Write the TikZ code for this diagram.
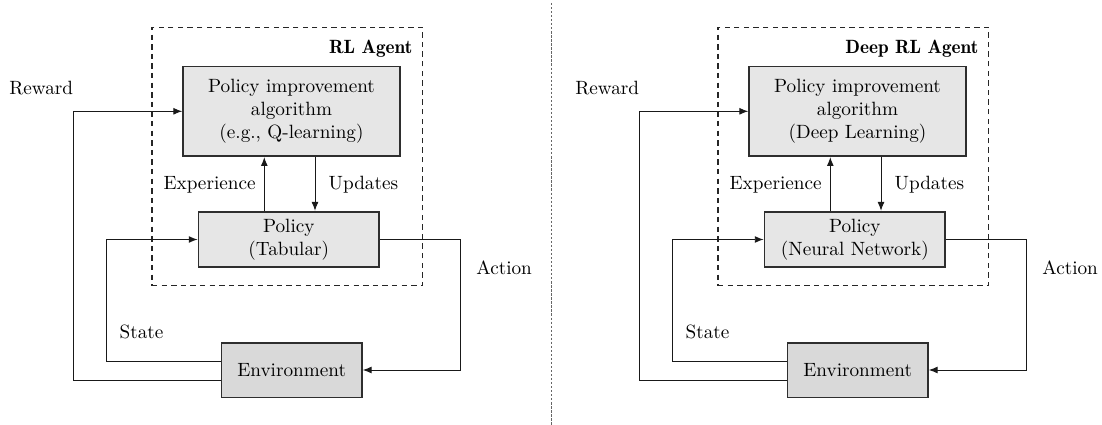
\documentclass[tikz,border=0pt]{standalone}
\usetikzlibrary{arrows.meta,calc}

\definecolor{blockfill}{HTML}{E6E6E6}
\definecolor{envfill}{HTML}{D9D9D9}
\definecolor{blockedge}{HTML}{2E2E2E}

\tikzset{
  block/.style={draw=blockedge, line width=0.9pt, inner sep=0pt, align=center},
  algbox/.style={block, fill=blockfill, minimum width=112.9pt, minimum height=46.8pt},
  polbox/.style={block, fill=blockfill, minimum width=94.1pt, minimum height=29.0pt},
  envbox/.style={block, fill=envfill, minimum width=73.1pt, minimum height=28.5pt},
  agentbox/.style={draw=black!85, line width=0.65pt, dash pattern=on 2.8pt off 2.2pt,
    inner sep=0pt, minimum width=140.8pt, minimum height=134.6pt},
  agenttitle/.style={font=\fontseries{b}\selectfont, inner sep=0pt},
  labeltext/.style={inner sep=0pt},
  flow/.style={draw=black!90, line width=0.5pt, -{Latex[length=4.6pt,width=3.6pt]}},
  divider/.style={draw=black!60, line width=0.5pt, dash pattern=on 1.2pt off 0.9pt},
  % one agent/environment loop
  pics/panel/.style n args={3}{code={
    \node[agentbox] (agent) at (287.15,156.5) {};
    \node[agenttitle, anchor=base east] (name) at (412.7,53.3) {#1};
    \node[algbox] (pia) at (291.5,111.3) {Policy improvement\\algorithm\\#2};
    \node[polbox] (pol) at (288.8,239.5) {Policy\\#3};
    \node[envbox] (env) at (291.7,370) {Environment};
    % labels
    \node[labeltext, anchor=base] (rew) at (41.2,95) {Reward};
    \node[labeltext, anchor=base east] (exp) at (256,190) {Experience};
    \node[labeltext, anchor=base west] (upd) at (328.3,190) {Updates};
    \node[labeltext, anchor=base west] (st) at (119.3,338.7) {State};
    \node[labeltext, anchor=base west] (act) at (476,274) {Action};
    % columns used by the connectors
    \coordinate (rx) at (73.3,0);
    \coordinate (sx) at (106.7,0);
    \coordinate (ax) at (460.3,0);
    \coordinate (ex) at (264.3,0);
    \coordinate (ux) at (315,0);
    % connectors
    \draw[flow] ($(env.west)+(0,10.7)$) -| (rx |- pia.west) -- (pia.west);
    \draw[flow] ($(env.west)+(0,-8.7)$) -| (sx |- pol.west) -- (pol.west);
    \draw[flow] (pol.east) -| (ax |- env.east) -- (env.east);
    \draw[flow] (ex |- pol.north) -- (ex |- pia.south);
    \draw[flow] (ux |- pia.south) -- (ux |- pol.north);
  }}
}

\begin{document}
\begin{tikzpicture}[x=0.5208pt, y=-0.5208pt]
  \path[use as bounding box] (0,0) rectangle (1102,425);
  \pic (L) at (0,0) {panel={RL Agent}{(e.g., Q-learning)}{(Tabular)}};
  \pic (R) at (566,0) {panel={Deep RL Agent}{(Deep Learning)}{(Neural Network)}};
  % vertical divider between the two loops
  \coordinate (divtop) at (551.7,3);
  \coordinate (divbot) at (551.7,425);
  \draw[divider] (divtop) -- (divbot);
\end{tikzpicture}
\end{document}
